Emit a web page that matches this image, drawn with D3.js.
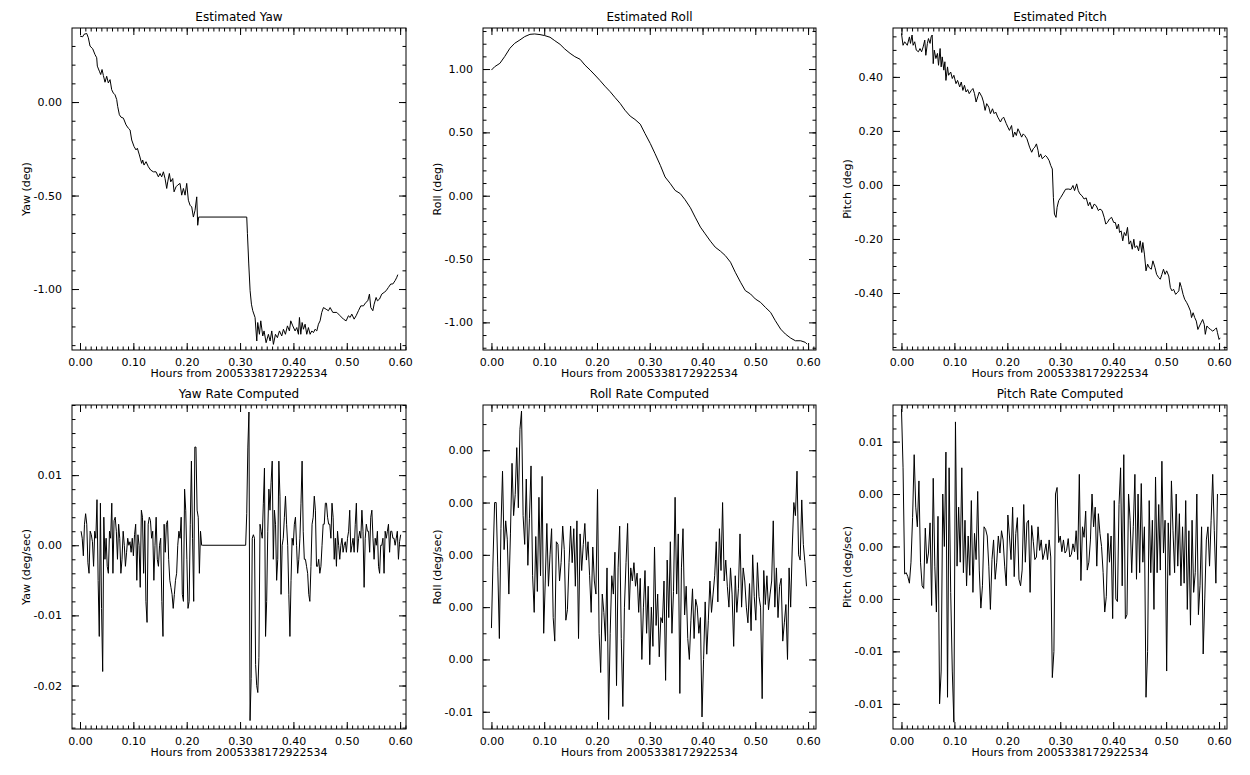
<!DOCTYPE html>
<html>
<head>
<meta charset="utf-8">
<script src="https://cdn.jsdelivr.net/npm/d3@7"></script>
<style>
body { margin: 0; background: #fff; }
svg { font-family: "DejaVu Sans", sans-serif; }
</style>
</head>
<body>
<svg width="1250" height="775"></svg>
<script>
// ---- data ----
const xTitle = "Hours from 2005338172922534";
const hourTicks = [0, 0.1, 0.2, 0.3, 0.4, 0.5, 0.6];

// estimated yaw (hours, deg)
const yawT = [0,.005,.0075,.0125,.0156,.0188,.0238,.0281,.0313,.0325,.0363,.0388,.0413,.0438,.0469,.05,.0531,.0563,.0594,.0625,.0656,.0688,.0706,.0738,.0769,.0813,.0863,.0906,.0938,.0969,.1013,.105,.1075,.1113,.1156,.1175,.12,.1238,.1281,.1325,.1375,.1425,.1469,.15,.1531,.1563,.1594,.1625,.1644,.1675,.17,.1738,.1763,.18,.1831,.1875,.1906,.1938,.1969,.2,.2031,.2063,.2094,.2125,.2156,.2188,.2206,.2225,.225,
  .3125,.3138,.3163,.3188,.3213,.3238,.3281,.3313,.3331,.3363,.3388,.3425,.345,.3488,.3531,.3563,.3594,.3625,.3663,.37,.3738,.3781,.3813,.385,.3888,.3925,.395,.3988,.4031,.4063,.4094,.4113,.4138,.4163,.4188,.4219,.425,.4281,.4313,.4344,.4375,.4406,.4438,.4469,.45,.4531,.4563,.4613,.4656,.4688,.4738,.4813,.4875,.4938,.4988,.5031,.5063,.5094,.5138,.5175,.5219,.5263,.5313,.5356,.5394,.5425,.545,.5488,.5513,.555,.5575,.5613,.5656,.57,.5738,.5781,.5825,.5863,.5906,.5938,.5956];
const yaw = [.353,.349,.362,.367,.344,.299,.285,.254,.237,.192,.165,.147,.174,.142,.106,.138,.102,.120,.066,.048,.039,.013,-.023,-.068,-.081,-.086,-.122,-.140,-.149,-.203,-.238,-.256,-.247,-.283,-.328,-.310,-.337,-.319,-.346,-.364,-.373,-.373,-.400,-.382,-.400,-.373,-.409,-.462,-.427,-.382,-.427,-.409,-.480,-.453,-.444,-.435,-.498,-.462,-.498,-.435,-.525,-.552,-.561,-.615,-.579,-.507,-.659,-.615,-.615,
  -.615,-.704,-.866,-1.009,-1.081,-1.116,-1.152,-1.278,-1.179,-1.242,-1.170,-1.251,-1.224,-1.287,-1.242,-1.278,-1.224,-1.296,-1.242,-1.260,-1.224,-1.251,-1.215,-1.242,-1.197,-1.224,-1.170,-1.197,-1.224,-1.206,-1.242,-1.152,-1.242,-1.179,-1.215,-1.188,-1.242,-1.206,-1.242,-1.224,-1.233,-1.215,-1.224,-1.188,-1.170,-1.125,-1.099,-1.108,-1.116,-1.099,-1.125,-1.125,-1.143,-1.161,-1.170,-1.143,-1.152,-1.134,-1.161,-1.143,-1.116,-1.090,-1.090,-1.072,-1.063,-1.027,-1.099,-1.116,-1.081,-1.045,-1.063,-1.054,-1.027,-1.018,-1.009,-.991,-.973,-.973,-.955,-.937,-.923];

// estimated roll (hours, deg)
const rollT = [0,.006,.016,.025,.035,.044,.054,.063,.073,.082,.092,.101,.111,.120,.130,.139,.149,.158,.168,.177,.187,.196,.206,.215,.225,.234,.244,.253,.263,.272,.282,.291,.301,.310,.320,.329,.339,.348,.358,.367,.377,.386,.396,.405,.415,.424,.434,.443,.453,.462,.472,.481,.491,.500,.510,.519,.529,.538,.548,.557,.567,.576,.586,.595,.598];
const roll = [.992,1.018,1.045,1.098,1.164,1.203,1.230,1.256,1.274,1.277,1.272,1.264,1.251,1.224,1.195,1.158,1.124,1.098,1.077,1.032,.992,.953,.908,.865,.821,.776,.728,.675,.628,.602,.565,.491,.412,.332,.240,.148,.095,.042,.016,-.032,-.095,-.169,-.248,-.301,-.359,-.406,-.438,-.472,-.525,-.604,-.683,-.749,-.776,-.815,-.842,-.881,-.921,-.987,-1.053,-1.092,-1.124,-1.145,-1.145,-1.158,-1.172];

// estimated pitch (hours, deg)
const pitchT = [0,.003,.006,.011,.015,.017,.020,.022,.025,.028,.032,.035,.038,.041,.044,.046,.049,.051,.054,.056,.058,.060,.062,.065,.068,.070,.073,.075,.077,.080,.082,.084,.087,.089,.093,.096,.099,.103,.106,.110,.113,.116,.119,.122,.125,.128,.132,.135,.138,.141,.144,.147,.152,.155,.158,.161,.165,.168,.172,.175,.178,.182,.187,.190,.193,.198,.201,.204,.208,.211,.214,.217,.220,.223,.227,.230,.233,.237,.242,.246,.249,.252,.255,.258,.260,.263,.266,.269,.272,.275,.279,.282,.285,.287,.289,.292,.294,.297,.301,.305,.310,.315,.320,.324,.327,.331,.334,.337,.341,.345,.349,.353,.356,.360,.364,.368,.372,.375,.379,.383,.386,.389,.393,.397,.401,.404,.407,.410,.412,.415,.418,.421,.424,.427,.430,.433,.436,.439,.441,.445,.448,.451,.454,.456,.459,.462,.465,.468,.472,.475,.479,.482,.486,.489,.492,.495,.498,.501,.505,.508,.511,.514,.518,.521,.524,.526,.529,.532,.535,.539,.542,.546,.548,.551,.554,.557,.560,.563,.566,.569,.572,.574,.577,.580,.584,.588,.592,.595,.597,.600,.602];
const pitch = [.561,.517,.530,.517,.548,.524,.555,.517,.530,.499,.493,.505,.493,.511,.536,.480,.524,.542,.524,.548,.555,.449,.499,.468,.487,.443,.505,.437,.474,.425,.456,.387,.437,.406,.418,.394,.406,.375,.387,.363,.381,.350,.369,.344,.353,.338,.350,.357,.338,.307,.326,.344,.326,.307,.276,.301,.288,.264,.282,.264,.270,.251,.233,.245,.251,.227,.214,.202,.220,.177,.196,.183,.208,.196,.177,.189,.183,.171,.140,.121,.134,.140,.152,.128,.103,.115,.097,.103,.109,.103,.090,.072,.059,-.046,-.108,-.120,-.083,-.058,-.046,-.033,-.016,-.015,-.017,-.002,-.021,.004,-.021,-.033,-.040,-.052,-.048,-.077,-.064,-.089,-.071,-.077,-.095,-.089,-.095,-.120,-.145,-.139,-.126,-.120,-.139,-.139,-.163,-.145,-.176,-.170,-.207,-.176,-.188,-.157,-.219,-.207,-.238,-.201,-.232,-.225,-.244,-.207,-.250,-.213,-.256,-.318,-.293,-.306,-.312,-.281,-.306,-.331,-.343,-.349,-.331,-.312,-.331,-.318,-.337,-.380,-.392,-.386,-.405,-.399,-.392,-.361,-.380,-.405,-.423,-.436,-.448,-.467,-.491,-.473,-.491,-.504,-.535,-.522,-.510,-.498,-.516,-.553,-.522,-.529,-.535,-.541,-.535,-.529,-.547,-.572,-.566];

// yaw rate, deg/sec x 1e-3, two stretches with a flat gap between
const yawRateA = [2,1,-1.5,3,4.5,3,-2.5,-4,2,1.5,.5,-3,2,1,6.5,-5,-13,6,-9,-18,4,-2,1,-3,-4,2,1,6,-4,3.5,4,2,-2,3,1,-4,-2,2,0,-3,-1,1,0,.5,-1,1,-1.5,1.5,3,-5,1.5,0,-6,5,4,-4,3.5,-8,-11,3,4,3.5,1,2,-5,0,4,-2,-3,0,1,-8,-13,3,-1,3,3.5,-2,-5,-6,-7,-9,-7,-5,-4,0,2,1,4,-7,-8,8,5,-2,-9,-8,3,12,1,-8,14,14,5,4,-4,2,0];
const yawRateB = [4.5,14,19,-25,-19,1,1.5,1,-17,-20,-21,-16,3,2,1,6,11,-13,-8,2,8,5,9,12,-2,5,3,-5,-2,12,7,-7,0,1,4,7,3,0,-7,-13,-5,1,0,3,4,0,-4,-2,1,6,12,2,-2,-2,-3,-4,-7,-8,-3,3,4,7,5,-3,-3,-2,-4,-3,0,3,3,6,6,4,3,3,1,6,4,-2,1,-3,2,0,-2,0,1,-1,0,.5,-1,1,2,5,-1,0,1,-1,3,6,-1,1,2,1,5,2,-6,1,3,2,2,-1,4,5,1,-2,1,0,2,-3,-4,0,0,1,-4,2,1,2,3,-1,2,2,1,1,0,1,2,-2,.5,1.5];
const yawRateSpans = [[0.002, 0.228], [0.3125, 0.601]];

// roll rate and pitch rate, deg/sec x 1e-3, one sample every 0.003 h
const rollRate = [-2.8,-0.2,2.0,2.0,-0.5,-3.2,1.0,3.2,0.2,1.3,0.6,-1.5,0.8,3.5,1.5,2.3,4.1,1.8,4.8,5.5,1.5,0.4,2.9,-0.4,1.4,3.4,-0.8,-2.2,0.7,-1.4,
  2.2,-0.8,3.0,-3.0,-1.0,1.2,-1.2,0.0,1.0,-2.4,-3.3,0.5,0.4,-1.0,-0.3,1.1,0.2,-2.5,-2.1,-0.3,1.1,-0.3,1.0,-1.2,1.3,-3.2,0.8,-0.6,0.4,1.2,
  -0.2,0.5,-0.8,-2.2,0.3,-1.0,-1.5,2.5,-3.0,-4.5,-1.5,-2.2,-3.3,-0.5,-6.3,-3.0,-0.8,-1.5,0.1,-5.0,-0.5,1.1,-3.2,-5.8,-2.0,-0.3,1.2,-2.1,-0.5,-1.0,
  -0.3,-1.2,-0.7,-2.2,-0.9,-4.0,-2.0,-0.6,-3.0,-1.2,-4.2,-2.0,-3.5,0.3,-2.7,-1.5,-3.9,-2.4,-2.6,-1.0,-4.8,-0.2,-2.4,0.5,-3.0,-1.4,2.2,-1.5,0.8,-5.3,
  -0.5,1.0,-2.3,-1.2,-3.2,-4.0,-2.5,-1.3,-3.2,-1.7,-2.0,-3.0,-2.4,-6.2,-4.0,-1.8,-3.8,-2.5,-1.0,-2.2,-1.5,-0.8,0.5,-1.8,1.0,-0.6,2.0,-1.0,-0.2,-1.2,
  -2.0,-0.5,-1.5,-3.5,-0.8,-2.2,-1.3,0.8,-2.0,-0.5,-1.0,-2.0,-2.6,-1.1,-2.9,0.0,-1.6,-2.5,-0.3,-1.6,-2.0,-5.5,-0.6,-1.9,-0.8,-2.1,-1.5,-1.0,1.3,-2.0,
  -0.5,-2.4,-1.2,-0.9,-3.3,-2.6,-1.9,-4.0,-0.5,-2.0,0.3,2.0,1.5,3.2,0.0,-0.2,2.1,0.4,-0.3,-1.2];
const pitchRate = [10.5,6.0,-2.1,-2.0,-2.3,-2.8,-1.2,2.2,7.0,3.0,1.5,5.0,-1.2,-3.0,-3.2,1.4,-1.3,-0.5,1.8,-4.5,
  5.2,-1.5,-5.0,2.3,-12.0,-9.5,4.0,0.0,7.2,-11.5,6.0,-3.5,-9.5,-13.4,9.5,-1.5,3.0,-1.2,6.0,-2.0,
  2.0,-3.0,0.8,-2.2,3.5,-3.5,1.0,-1.0,4.2,-1.8,-4.7,-3.0,1.5,1.3,0.8,-1.5,-4.8,-1.0,0.5,-2.5,
  -1.2,0.8,-0.5,1.2,0.5,-1.5,-3.0,2.4,0.8,-1.0,3.0,-2.3,1.0,2.2,-2.5,-3.0,-1.8,3.2,-1.2,1.8,
  2.0,-3.5,1.6,0.4,-1.0,-0.8,1.5,-0.3,0.5,-1.0,-0.5,0.2,-1.0,0.5,-0.8,-10.0,-8.0,4.0,4.5,0.3,
  0.8,-0.4,0.5,-0.5,-0.3,0.6,-0.8,-0.6,0.2,-0.4,1.2,-1.0,5.5,-2.6,1.5,0.7,2.7,-1.8,-1.2,0.5,
  4.0,1.5,3.0,-1.5,2.5,1.0,0.0,-2.0,-5.0,-3.8,1.0,-1.2,0.8,-5.5,3.5,-4.0,-4.2,3.2,6.0,-3.0,
  7.0,-5.5,-5.2,4.0,2.0,-2.0,1.5,5.5,-2.5,4.0,-2.0,4.8,-1.2,1.5,-11.5,-8.0,3.5,-2.0,2.0,-4.8,
  5.3,-2.0,3.2,-1.8,6.5,-0.5,2.0,-9.5,1.8,-2.2,5.0,1.2,-2.0,4.0,-1.5,2.5,-3.0,1.5,-2.8,3.5,
  -4.8,1.2,-6.0,2.0,-3.5,-2.0,4.0,-5.2,-3.0,1.5,-8.2,-4.0,0.5,1.5,-1.5,2.0,5.5,1.2,-2.8,4.0];
const rateStep = 0.003;

// y tick values and the labels printed beside them
const yawTicks = [0, -0.5, -1.0], yawLabels = ["0.00", "-0.50", "-1.00"];
const rollTicks = [1.0, 0.5, 0, -0.5, -1.0], rollLabels = ["1.00", "0.50", "0.00", "-0.50", "-1.00"];
const pitchTicks = [0.4, 0.2, 0, -0.2, -0.4], pitchLabels = ["0.40", "0.20", "0.00", "-0.20", "-0.40"];
const yawRateTicks = [0.01, 0, -0.01, -0.02], yawRateLabels = ["0.01", "0.00", "-0.01", "-0.02"];
const rollRateTicks = [0.004, 0.002, 0, -0.002, -0.004, -0.006], rollRateLabels = ["0.00", "0.00", "0.00", "0.00", "0.00", "-0.01"];
const pitchRateTicks = [0.008, 0.004, 0, -0.004, -0.008, -0.012], pitchRateLabels = ["0.01", "0.00", "0.00", "0.00", "-0.01", "-0.01"];

// ---- build point lists ----
const ptsYaw = d3.zip(yawT, yaw);
const ptsRoll = d3.zip(rollT, roll);
const ptsPitch = d3.zip(pitchT, pitch);
function spread(vals, t0, t1) {
  return vals.map((v, i) => [t0 + (t1 - t0) * i / (vals.length - 1), v / 1000]);
}
const ptsYawRate = spread(yawRateA, yawRateSpans[0][0], yawRateSpans[0][1])
  .concat([[yawRateSpans[0][1] + 0.002, 0], [yawRateSpans[1][0] - 0.002, 0]])
  .concat(spread(yawRateB, yawRateSpans[1][0], yawRateSpans[1][1]));
const ptsRollRate = rollRate.map((v, i) => [i * rateStep, v / 1000]);
const ptsPitchRate = pitchRate.map((v, i) => [i * rateStep, v / 1000]);

const svg = d3.select("svg");

function panel(p) {
  const g = svg.append("g");
  const x = d3.scaleLinear().domain(p.xd).range([p.x0, p.x1]);
  const y = d3.scaleLinear().domain(p.yd).range([p.y1, p.y0]);

  const minorX = d3.range(0, 0.6101, 0.01).filter(v => v >= p.xd[0] && v <= p.xd[1]);
  const minorY = d3.range(Math.ceil(p.yd[0] / p.ym - 1e-6), Math.floor(p.yd[1] / p.ym + 1e-6) + 1).map(k => k * p.ym);

  // minor ticks all round
  g.append("g").attr("transform", `translate(0,${p.y1})`).call(d3.axisBottom(x).tickValues(minorX).tickSize(-3.5).tickFormat(""));
  g.append("g").attr("transform", `translate(0,${p.y0})`).call(d3.axisTop(x).tickValues(minorX).tickSize(-3.5).tickFormat(""));
  g.append("g").attr("transform", `translate(${p.x0},0)`).call(d3.axisLeft(y).tickValues(minorY).tickSize(-3.5).tickFormat(""));
  g.append("g").attr("transform", `translate(${p.x1},0)`).call(d3.axisRight(y).tickValues(minorY).tickSize(-3.5).tickFormat(""));
  // major ticks
  g.append("g").attr("class", "lab").attr("transform", `translate(0,${p.y1})`)
    .call(d3.axisBottom(x).tickValues(hourTicks).tickSize(-7).tickPadding(8).tickFormat(d3.format(".2f")));
  g.append("g").attr("transform", `translate(0,${p.y0})`).call(d3.axisTop(x).tickValues(hourTicks).tickSize(-7).tickFormat(""));
  g.append("g").attr("class", "lab").attr("transform", `translate(${p.x0},0)`)
    .call(d3.axisLeft(y).tickValues(p.ticks).tickSize(-7).tickPadding(10).tickFormat((d, i) => p.labels[i]));
  g.append("g").attr("transform", `translate(${p.x1},0)`).call(d3.axisRight(y).tickValues(p.ticks).tickSize(-7).tickFormat(""));

  g.selectAll(".domain").remove();
  g.selectAll(".tick line").attr("stroke", "#000");
  g.selectAll(".lab text").attr("fill", "#000").attr("font-size", 11).attr("font-family", "DejaVu Sans, sans-serif");

  g.append("rect").attr("x", p.x0).attr("y", p.y0).attr("width", p.x1 - p.x0).attr("height", p.y1 - p.y0)
    .attr("fill", "none").attr("stroke", "#000");

  g.append("path").datum(p.pts)
    .attr("d", d3.line().x(d => x(d[0])).y(d => y(d[1])))
    .attr("fill", "none").attr("stroke", "#000").attr("stroke-width", 1);

  const cx = (p.x0 + p.x1) / 2;
  g.append("text").attr("x", cx).attr("y", p.y0 - 7).attr("text-anchor", "middle").attr("font-size", 12).text(p.title);
  g.append("text").attr("x", cx).attr("y", p.y1 + 27).attr("text-anchor", "middle").attr("font-size", 11).text(xTitle);
  g.append("text").attr("transform", `translate(${p.x0 - 42},${(p.y0 + p.y1) / 2}) rotate(-90)`)
    .attr("text-anchor", "middle").attr("font-size", 11).text(p.ylab);
}

const top0 = 28, top1 = 350, bot0 = 405, bot1 = 729;
const colX = [[72, 406], [483, 816], [893, 1227]];
const xdA = [-0.015, 0.611], xdB = [-0.016, 0.615];

panel({ title: "Estimated Yaw", ylab: "Yaw (deg)", x0: colX[0][0], x1: colX[0][1], y0: top0, y1: top1,
  xd: xdA, yd: [-1.326, 0.396], ym: 0.1, ticks: yawTicks, labels: yawLabels, pts: ptsYaw });
panel({ title: "Estimated Roll", ylab: "Roll (deg)", x0: colX[1][0], x1: colX[1][1], y0: top0, y1: top1,
  xd: xdB, yd: [-1.218, 1.324], ym: 0.1, ticks: rollTicks, labels: rollLabels, pts: ptsRoll });
panel({ title: "Estimated Pitch", ylab: "Pitch (deg)", x0: colX[2][0], x1: colX[2][1], y0: top0, y1: top1,
  xd: xdB, yd: [-0.611, 0.581], ym: 0.05, ticks: pitchTicks, labels: pitchLabels, pts: ptsPitch });
panel({ title: "Yaw Rate Computed", ylab: "Yaw (deg/sec)", x0: colX[0][0], x1: colX[0][1], y0: bot0, y1: bot1,
  xd: xdA, yd: [-0.0262, 0.0200], ym: 0.002, ticks: yawRateTicks, labels: yawRateLabels, pts: ptsYawRate });
panel({ title: "Roll Rate Computed", ylab: "Roll (deg/sec)", x0: colX[1][0], x1: colX[1][1], y0: bot0, y1: bot1,
  xd: xdB, yd: [-0.00666, 0.00573], ym: 0.001, ticks: rollRateTicks, labels: rollRateLabels, pts: ptsRollRate });
panel({ title: "Pitch Rate Computed", ylab: "Pitch (deg/sec)", x0: colX[2][0], x1: colX[2][1], y0: bot0, y1: bot1,
  xd: xdB, yd: [-0.01392, 0.01079], ym: 0.001, ticks: pitchRateTicks, labels: pitchRateLabels, pts: ptsPitchRate });
</script>
</body>
</html>
